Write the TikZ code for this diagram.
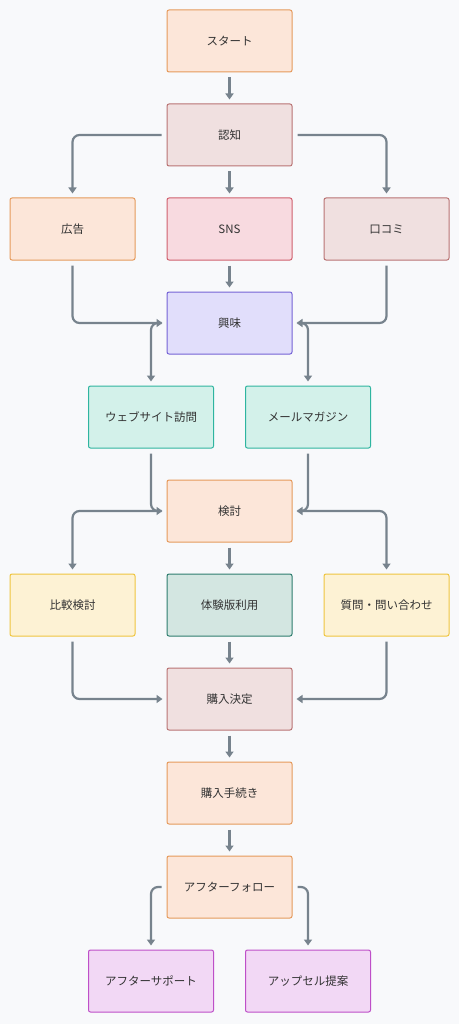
\documentclass[tikz,border=0pt]{standalone}
\usepackage{fontspec}
\newfontfamily\jpfont{Noto Sans CJK JP}
\usepackage{tikz}
\usetikzlibrary{positioning,arrows.meta}
\definecolor{bg}{HTML}{F8F9FB}
\definecolor{peachfill}{HTML}{FCE6D9}
\definecolor{peachline}{HTML}{E59A5B}
\definecolor{rosefill}{HTML}{F0E0E0}
\definecolor{roseline}{HTML}{B97373}
\definecolor{pinkfill}{HTML}{F8DAE0}
\definecolor{pinkline}{HTML}{D0606E}
\definecolor{lavfill}{HTML}{E1DEFB}
\definecolor{lavline}{HTML}{7563D6}
\definecolor{mintfill}{HTML}{D3F1EA}
\definecolor{mintline}{HTML}{2FB5A0}
\definecolor{yelfill}{HTML}{FDF2D4}
\definecolor{yelline}{HTML}{EFC53F}
\definecolor{tealfill}{HTML}{D3E6E1}
\definecolor{tealline}{HTML}{2E7D6E}
\definecolor{magfill}{HTML}{F2D8F5}
\definecolor{magline}{HTML}{BE4FC8}
\definecolor{arrowgray}{HTML}{77838D}
\definecolor{textgray}{HTML}{333333}

\begin{document}
\begin{tikzpicture}[
    node distance=31pt,
    box/.style={draw, line width=1pt, rounded corners=2pt,
      minimum width=125pt, minimum height=62pt,
      font=\jpfont\fontsize{11.5}{14}\selectfont, text=textgray},
    peach/.style={box, fill=peachfill, draw=peachline},
    rose/.style={box, fill=rosefill, draw=roseline},
    pink/.style={box, fill=pinkfill, draw=pinkline},
    lav/.style={box, fill=lavfill, draw=lavline},
    mint/.style={box, fill=mintfill, draw=mintline},
    yel/.style={box, fill=yelfill, draw=yelline},
    teal/.style={box, fill=tealfill, draw=tealline},
    mag/.style={box, fill=magfill, draw=magline},
    flow/.style={draw=arrowgray, line width=2.2pt, rounded corners=7pt,
      shorten <=5pt, shorten >=4pt, -{Triangle[width=8pt,length=6pt]}},
  ]
  \fill[bg] (0,0) rectangle (459pt,-1024pt);
  \useasboundingbox (0,0) rectangle (459pt,-1024pt);

  \node[peach] (start) at (229.5pt,-41pt) {スタート};
  \node[rose, below=of start] (aware) {認知};
  \node[pink, below=of aware] (sns) {SNS};
  \node[peach, left=of sns] (ad) {広告};
  \node[rose, right=of sns] (wom) {口コミ};
  \node[lav, below=of sns] (interest) {興味};
  \node[mint, below=of interest, xshift=-78.5pt] (web) {ウェブサイト訪問};
  \node[mint, below=of interest, xshift=78.5pt] (mail) {メールマガジン};
  \node[peach, below=of web, xshift=78.5pt] (consider) {検討};
  \node[teal, below=of consider] (trial) {体験版利用};
  \node[yel, left=of trial] (compare) {比較検討};
  \node[yel, right=of trial] (inquiry) {質問・問い合わせ};
  \node[rose, below=of trial] (decide) {購入決定};
  \node[peach, below=of decide] (purchase) {購入手続き};
  \node[peach, below=of purchase] (after) {アフターフォロー};
  \node[mag, below=of after, xshift=-78.5pt] (support) {アフターサポート};
  \node[mag, below=of after, xshift=78.5pt] (upsell) {アップセル提案};

  \draw[flow] (start) -- (aware);
  \draw[flow] (aware.west) -| (ad.north);
  \draw[flow] (aware) -- (sns);
  \draw[flow] (aware.east) -| (wom.north);
  \draw[flow] (ad.south) |- (interest.west);
  \draw[flow] (sns) -- (interest);
  \draw[flow] (wom.south) |- (interest.east);
  \draw[flow] (interest.west) -| (web.north);
  \draw[flow] (interest.east) -| (mail.north);
  \draw[flow] (web.south) |- (consider.west);
  \draw[flow] (mail.south) |- (consider.east);
  \draw[flow] (consider.west) -| (compare.north);
  \draw[flow] (consider) -- (trial);
  \draw[flow] (consider.east) -| (inquiry.north);
  \draw[flow] (compare.south) |- (decide.west);
  \draw[flow] (trial) -- (decide);
  \draw[flow] (inquiry.south) |- (decide.east);
  \draw[flow] (decide) -- (purchase);
  \draw[flow] (purchase) -- (after);
  \draw[flow] (after.west) -| (support.north);
  \draw[flow] (after.east) -| (upsell.north);
\end{tikzpicture}
\end{document}
